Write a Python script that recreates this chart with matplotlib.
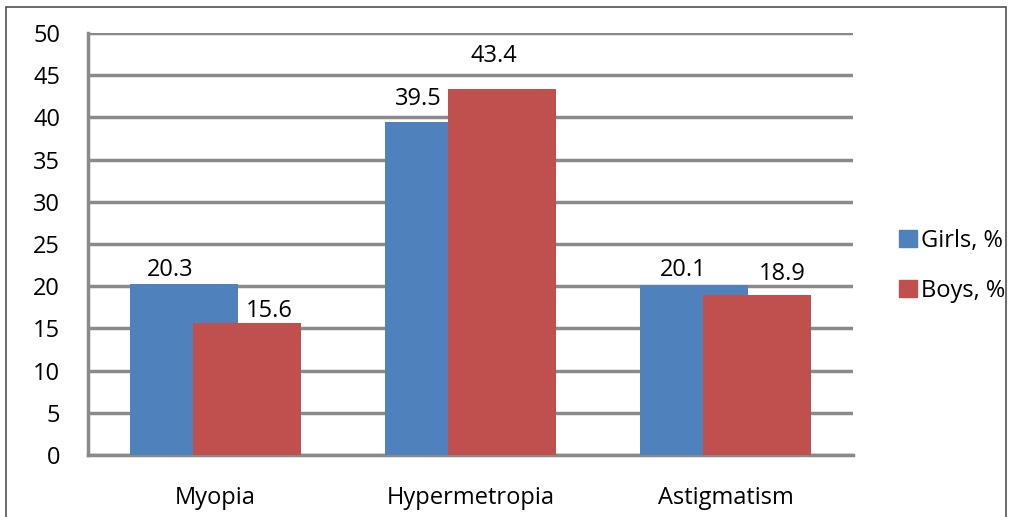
import matplotlib.pyplot as plt
from matplotlib.patches import Rectangle, Patch
import numpy as np

# prevalence of refractive errors by sex
categories = ['Myopia', 'Hypermetropia', 'Astigmatism']
girls = [20.3, 39.5, 20.1]
boys = [15.6, 43.4, 18.9]
series_names = ['Girls, %', 'Boys, %']

blue = '#4f81bd'
red = '#c0504d'
grid_col = '#8a8a8a'
fs = 17

plt.rcParams['font.family'] = ['Open Sans', 'DejaVu Sans']

fig = plt.figure(figsize=(10.09, 5.17), dpi=100)
W, H = 1009, 517
ax = fig.add_axes([88 / W, (517 - 455) / H, (853 - 88) / W, (455 - 33) / H])

x = np.arange(len(categories))
width = 0.4235
shift = 0.1245
gb = ax.bar(x - shift, girls, width, color=blue, zorder=3)
bb = ax.bar(x + shift, boys, width, color=red, zorder=4)

ax.set_xlim(-0.5, 2.5)
ax.set_ylim(0, 50)
ax.set_yticks(range(0, 51, 5))
ax.set_xticks(x)
ax.set_xticklabels(categories)
ax.yaxis.grid(True, color=grid_col, lw=2.5, zorder=0)
ax.tick_params(axis='y', length=0, pad=20, labelsize=fs)
ax.tick_params(axis='x', length=0, pad=22, labelsize=fs)
for s in ['top', 'right']:
    ax.spines[s].set_visible(False)
for s in ['left', 'bottom']:
    ax.spines[s].set_color(grid_col)
    ax.spines[s].set_linewidth(2.5)

# value labels, nudged (in pixels) as in the original layout
girl_offsets = [(-14, 14), (-20, 23), (-11, 15)]
boy_offsets = [(22, 12), (-8, 33), (25, 21)]
for rects, vals, offs in [(gb, girls, girl_offsets), (bb, boys, boy_offsets)]:
    for r, v, (dx, dy) in zip(rects, vals, offs):
        ax.annotate(f'{v:.1f}', (r.get_x() + r.get_width() / 2, v),
                    xytext=(dx, dy), textcoords='offset pixels',
                    ha='center', va='center', fontsize=fs, zorder=5)

handles = [Patch(color=blue), Patch(color=red)]
fig.legend(handles, series_names, loc='upper left',
           bbox_to_anchor=(899 / W, 1 - 229 / H), frameon=False,
           fontsize=fs, handlelength=0.76, handleheight=0.76,
           handletextpad=0.17, labelspacing=1.1, borderpad=0,
           borderaxespad=0)

# thin frame around the chart area
fig.patches.append(Rectangle((6 / W, -0.05), (1006 - 6) / W, 1.05 - 7 / H,
                             transform=fig.transFigure, fill=False,
                             edgecolor='#505050', lw=1.2))

fig.savefig('out.png', dpi=100)
